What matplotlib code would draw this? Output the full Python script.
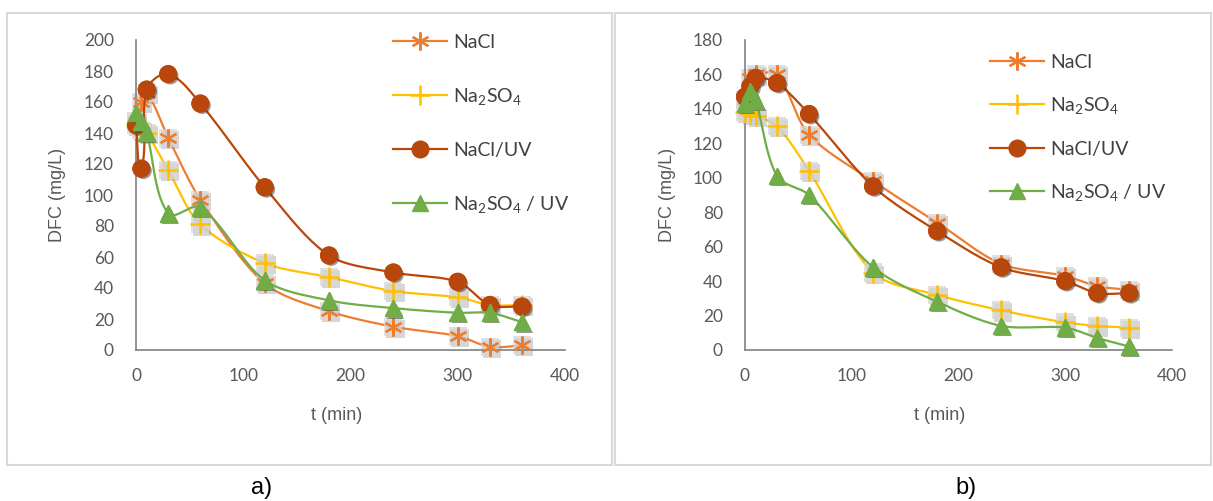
import matplotlib
matplotlib.use("Agg")
import matplotlib.pyplot as plt
import matplotlib.patheffects as pe
from matplotlib.patches import Rectangle
import numpy as np

plt.rcParams['font.family'] = ['Lato', 'DejaVu Sans']
plt.rcParams['mathtext.fontset'] = 'custom'
plt.rcParams['mathtext.rm'] = 'Lato'
plt.rcParams['mathtext.it'] = 'Lato'

# time points (min)
t = [0, 5, 10, 30, 60, 120, 180, 240, 300, 330, 360]

# panel a)
nacl_a = [148, 160, 166, 137, 97, 43, 25, 15, 9, 2, 3]
na2so4_a = [145, 142, 140, 116, 81, 56, 47, 38, 34, 29, 29]
nacl_uv_a = [145, 117, 168, 178, 159, 105, 61, 50, 44, 29, 28]
na2so4_uv_a = [153, 147, 140, 88, 92, 45, 32, 27, 24, 24, 18]

# panel b)
nacl_b = [145, 158, 160, 160, 125, 98, 74, 50, 43, 37, 35]
na2so4_b = [138, 137, 136, 130, 104, 45, 32, 23, 16, 14, 13]
nacl_uv_b = [147, 153, 158, 155, 137, 95, 69, 48, 40, 33, 33]
na2so4_uv_b = [143, 150, 145, 101, 90, 48, 28, 14, 13, 7, 2]

labels = ['NaCl', 'Na$_2$SO$_4$', 'NaCl/UV', 'Na$_2$SO$_4$ / UV']
colors = ['#ED7D31', '#FFC000', '#B9470B', '#70AD47']

W, H = 1213, 501


def smooth(x, y, xs, ys, n=25, k=0.3):
    # smoothed line through the points (bezier, tangent scaled by segment length)
    pts = np.column_stack([np.asarray(x, float) / xs, np.asarray(y, float) / ys])
    P = np.vstack([pts[0], pts, pts[-1]])
    out = []
    tt = np.linspace(0, 1, n)[:, None]
    for i in range(1, len(P) - 2):
        p0, p1, p2, p3 = P[i - 1], P[i], P[i + 1], P[i + 2]
        L = np.hypot(*(p2 - p1))
        d1 = p2 - p0
        d2 = p3 - p1
        d1 = d1 / (np.hypot(*d1) or 1)
        d2 = d2 / (np.hypot(*d2) or 1)
        c1 = p1 + d1 * L * k
        c2 = p2 - d2 * L * k
        seg = (1 - tt)**3 * p1 + 3 * (1 - tt)**2 * tt * c1 + 3 * (1 - tt) * tt**2 * c2 + tt**3 * p2
        out.append(seg)
    arr = np.vstack(out)
    return arr[:, 0] * xs, arr[:, 1] * ys


def draw_panel(fig, box, ymax, series, legend_pos, spacing):
    left, right, top, bottom = box
    ax = fig.add_axes([left / W, 1 - bottom / H, (right - left) / W, (bottom - top) / H])
    ax.set_xlim(0, 400)
    ax.set_ylim(0, ymax)
    xs = 400 / (right - left)
    ys = ymax / (bottom - top)

    mk = [dict(marker=(6, 2, 0), ms=13, mew=1.6),
          dict(marker='+', ms=15, mew=1.8),
          dict(marker='o', ms=12),
          dict(marker='^', ms=12)]
    handles = []
    for i, ys_data in enumerate(series):
        sx, sy = smooth(t, ys_data, xs, ys)
        ax.plot(sx, sy, color=colors[i], lw=1.6, zorder=2 + i, clip_on=False)
        if i < 2:
            # light grey square shadow behind the open markers
            ax.plot(t, ys_data, ls='none', marker='s', ms=13, mfc='#d6d6d6', mec='none',
                    alpha=0.75, zorder=2 + i, clip_on=False,
                    path_effects=[pe.withSimplePatchShadow(offset=(1.5, -1.5), shadow_rgbFace='#999999', alpha=0.4)])
            ax.plot(t, ys_data, ls='none', color=colors[i], zorder=3 + i, clip_on=False, **mk[i])
        else:
            ax.plot(t, ys_data, ls='none', color=colors[i], mec=colors[i], zorder=3 + i, clip_on=False,
                    path_effects=[pe.withSimplePatchShadow(offset=(1.5, -1.5), shadow_rgbFace='#333333', alpha=0.5),
                                  pe.Normal()],
                    **mk[i])
        h, = ax.plot([], [], color=colors[i], lw=1.6, **mk[i])
        handles.append(h)

    for s in ['top', 'right']:
        ax.spines[s].set_visible(False)
    for s in ['left', 'bottom']:
        ax.spines[s].set_color('#808080')
        ax.spines[s].set_linewidth(1.2)
    ax.set_xticks(range(0, 401, 100))
    ax.set_yticks(range(0, ymax + 1, 20))
    ax.tick_params(length=0, labelsize=12.5, labelcolor='#595959')
    ax.tick_params(axis='y', pad=16)
    ax.tick_params(axis='x', pad=13)
    ax.set_facecolor('none')

    fig.legend(handles, labels, loc='upper left',
               bbox_to_anchor=(legend_pos[0] / W, 1 - legend_pos[1] / H),
               frameon=False, fontsize=14, handlelength=2.8, handletextpad=0.3,
               labelspacing=spacing, borderpad=0, borderaxespad=0, labelcolor='#404040')
    return ax


fig = plt.figure(figsize=(W / 100, H / 100), dpi=100)

# panel frames
fig.add_artist(Rectangle((7 / W, 1 - 465 / H), 605 / W, 452 / H, transform=fig.transFigure,
                         fill=False, ec='#d9d9d9', lw=1.5))
fig.add_artist(Rectangle((615 / W, 1 - 465 / H), 596 / W, 452 / H, transform=fig.transFigure,
                         fill=False, ec='#d9d9d9', lw=1.5))

draw_panel(fig, (136, 565, 40, 350), 200, [nacl_a, na2so4_a, nacl_uv_a, na2so4_uv_a], (393, 34), 1.8)
draw_panel(fig, (745, 1172, 40, 350), 180, [nacl_b, na2so4_b, nacl_uv_b, na2so4_uv_b], (990, 54), 1.25)

axis_font = ['Liberation Sans', 'DejaVu Sans']
for xl, xt in [(58, 337), (667, 940)]:
    fig.text(xl / W, 1 - 195 / H, 'DFC (mg/L)', rotation=90, ha='center', va='center',
             fontsize=13, color='#595959', family=axis_font)
    fig.text(xt / W, 1 - 415 / H, 't (min)', ha='center', va='center',
             fontsize=13, color='#595959', family=axis_font)

fig.text(262 / W, 1 - 488 / H, 'a)', ha='center', va='center', fontsize=17, color='black',
         family=['Liberation Sans', 'DejaVu Sans'])
fig.text(966 / W, 1 - 488 / H, 'b)', ha='center', va='center', fontsize=17, color='black',
         family=['Liberation Sans', 'DejaVu Sans'])

fig.savefig('out.png', dpi=100)
